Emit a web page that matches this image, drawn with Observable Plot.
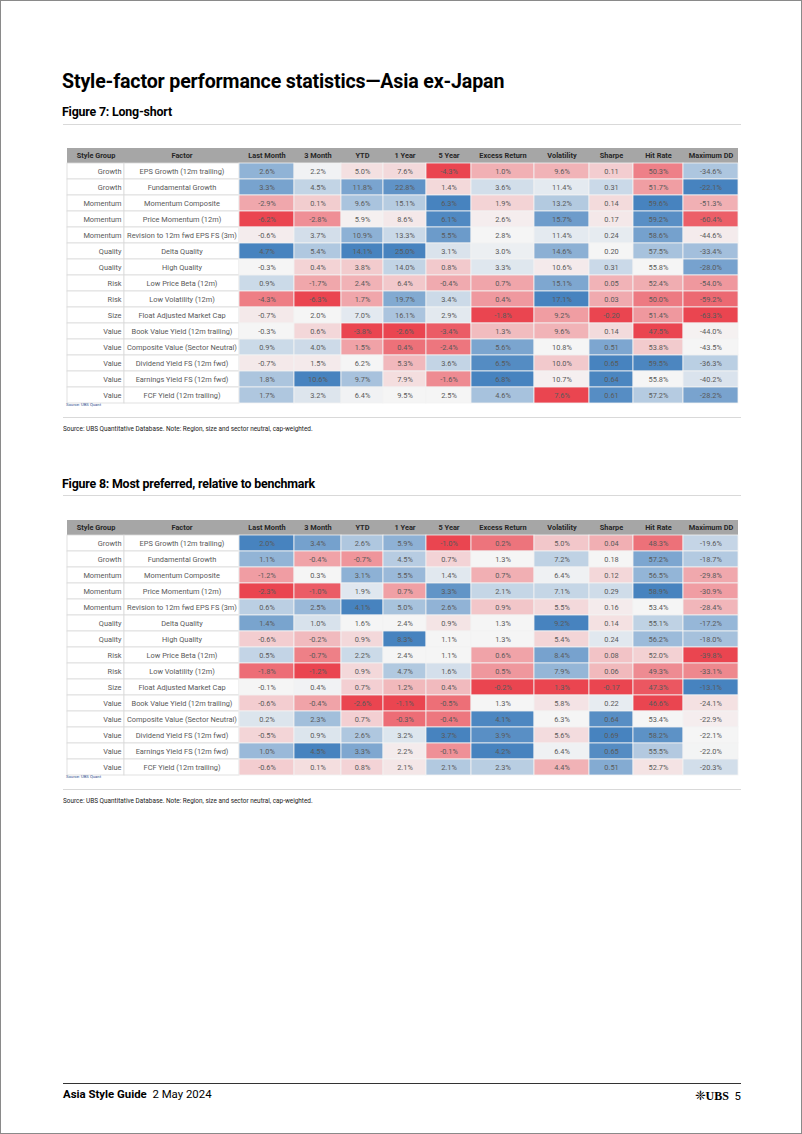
<!DOCTYPE html>
<html><head><meta charset="utf-8">
<script src="https://cdn.jsdelivr.net/npm/d3@7"></script>
<script src="https://cdn.jsdelivr.net/npm/@observablehq/plot@0.6"></script>
<style>
html,body{margin:0;padding:0;background:#fff;}
#page{position:relative;width:802px;height:1134px;box-sizing:border-box;border:1px solid #8a8a8a;overflow:hidden;font-family:Roboto,"Open Sans",sans-serif;color:#000;}
.abs{position:absolute;white-space:nowrap;line-height:1;}
.title{left:61px;top:71px;font-size:19.6px;font-weight:700;letter-spacing:-0.15px;}
.fig{left:61px;font-size:12.4px;font-weight:700;letter-spacing:-0.2px;}
.rule{position:absolute;left:62px;width:678px;height:1px;background:#d9d9d9;}
.src{left:62px;font-size:7.6px;color:#222;transform:scaleX(0.845);transform-origin:left;}
.tiny{left:65px;font-size:4.2px;color:#2f4f8f;}
.tbl{position:absolute;left:60px;}
.foot{left:62px;top:1088px;font-size:11.4px;}
.foot b{font-weight:700;}
.ubs{right:60px;top:1088px;font-size:11.4px;}
</style></head><body><div id="page">
<div class="abs title">Style-factor performance statistics—Asia ex-Japan</div>
<div class="abs fig" style="top:105px">Figure 7: Long-short</div>
<div class="rule" style="top:123px"></div>
<div class="tbl" id="t1" style="top:145px"></div>
<div class="abs tiny" style="top:402px">Source: UBS Quant</div>
<div class="rule" style="top:416px"></div>
<div class="abs src" style="top:424px">Source: UBS Quantitative Database. Note: Region, size and sector neutral, cap-weighted.</div>
<div class="abs fig" style="top:477px">Figure 8: Most preferred, relative to benchmark</div>
<div class="rule" style="top:494px"></div>
<div class="tbl" id="t2" style="top:517px"></div>
<div class="abs tiny" style="top:774px">Source: UBS Quant</div>
<div class="rule" style="top:788px"></div>
<div class="abs src" style="top:796px">Source: UBS Quantitative Database. Note: Region, size and sector neutral, cap-weighted.</div>
<div class="rule" style="top:1082px;background:#333"></div>
<div class="abs foot"><b>Asia Style Guide</b>&nbsp; 2 May 2024</div>
<div class="abs ubs"><span style="font-size:13px">❈</span><span style="font-family:'Liberation Serif',serif;font-weight:700;font-size:12px">UBS</span>&nbsp; 5</div>
</div>
<script>
// ---------- data ----------
const styleGroups = ["Growth","Growth","Momentum","Momentum","Momentum","Quality","Quality","Risk","Risk","Size","Value","Value","Value","Value","Value"];
const factors = ["EPS Growth (12m trailing)","Fundamental Growth","Momentum Composite","Price Momentum (12m)","Revision to 12m fwd EPS FS (3m)","Delta Quality","High Quality","Low Price Beta (12m)","Low Volatility (12m)","Float Adjusted Market Cap","Book Value Yield (12m trailing)","Composite Value (Sector Neutral)","Dividend Yield FS (12m fwd)","Earnings Yield FS (12m fwd)","FCF Yield (12m trailing)"];
const columnNames = ["Style Group","Factor","Last Month","3 Month","YTD","1 Year","5 Year","Excess Return","Volatility","Sharpe","Hit Rate","Maximum DD"];

// Figure 7: Long-short
const ls_lastMonth = [2.6,3.3,-2.9,-6.2,-0.6,4.7,-0.3,0.9,-4.3,-0.7,-0.3,0.9,-0.7,1.8,1.7];
const ls_3month    = [2.2,4.5,0.1,-2.8,3.7,5.4,0.4,-1.7,-6.3,2.0,0.6,4.0,1.5,10.6,3.2];
const ls_ytd       = [5.0,11.8,9.6,5.9,10.9,14.1,3.8,2.4,1.7,7.0,-3.8,1.5,6.2,9.7,6.4];
const ls_1year     = [7.6,22.8,15.1,8.6,13.3,25.0,14.0,6.4,19.7,16.1,-2.6,0.4,5.3,7.9,9.5];
const ls_5year     = [-4.3,1.4,6.3,6.1,5.5,3.1,0.8,-0.4,3.4,2.9,-3.4,-2.4,3.6,-1.6,2.5];
const ls_excess    = [1.0,3.6,1.9,2.6,2.8,3.0,3.3,0.7,0.4,-1.8,1.3,5.6,6.5,6.8,4.6];
const ls_vol       = [9.6,11.4,13.2,15.7,11.4,14.6,10.6,15.1,17.1,9.2,9.6,10.8,10.0,10.7,7.6];
const ls_sharpe    = [0.11,0.31,0.14,0.17,0.24,0.20,0.31,0.05,0.03,-0.20,0.14,0.51,0.65,0.64,0.61];
const ls_hitRate   = [50.3,51.7,59.6,59.2,58.6,57.5,55.8,52.4,50.0,51.4,47.5,53.8,59.5,55.8,57.2];
const ls_maxDD     = [-34.6,-22.1,-51.3,-60.4,-44.6,-33.4,-28.0,-54.0,-59.2,-63.3,-44.0,-43.5,-36.3,-40.2,-28.2];

// Figure 8: Most preferred, relative to benchmark
const mp_lastMonth = [2.0,1.1,-1.2,-2.3,0.6,1.4,-0.6,0.5,-1.8,-0.1,-0.6,0.2,-0.5,1.0,-0.6];
const mp_3month    = [3.4,-0.4,0.3,-1.0,2.5,1.0,-0.2,-0.7,-1.2,0.4,-0.4,2.3,0.9,4.5,0.1];
const mp_ytd       = [2.6,-0.7,3.1,1.9,4.1,1.6,0.9,2.2,0.9,0.7,-2.6,0.7,2.6,3.3,0.8];
const mp_1year     = [5.9,4.5,5.5,0.7,5.0,2.4,8.3,2.4,4.7,1.2,-1.1,-0.3,3.2,2.2,2.1];
const mp_5year     = [-1.0,0.7,1.4,3.3,2.6,0.9,1.1,1.1,1.6,0.4,-0.5,-0.4,3.7,-0.1,2.1];
const mp_excess    = [0.2,1.3,0.7,2.1,0.9,1.3,1.3,0.6,0.5,-0.2,1.3,4.1,3.9,4.2,2.3];
const mp_vol       = [5.0,7.2,6.4,7.1,5.5,9.2,5.4,8.4,7.9,1.3,5.8,6.3,5.6,6.4,4.4];
const mp_sharpe    = [0.04,0.18,0.12,0.29,0.16,0.14,0.24,0.08,0.06,-0.17,0.22,0.64,0.69,0.65,0.51];
const mp_hitRate   = [48.3,57.2,56.5,58.9,53.4,55.1,56.2,52.0,49.3,47.3,46.6,53.4,58.2,55.5,52.7];
const mp_maxDD     = [-19.6,-18.7,-29.8,-30.9,-28.4,-17.2,-18.0,-39.8,-33.1,-13.1,-24.1,-22.9,-22.1,-22.0,-20.3];

// ---------- layout ----------
const colWidths = [57,115,55,47,42,43,45,63,55,44,50,55];
const colStart = colWidths.map((w,i)=>d3.sum(colWidths.slice(0,i)));
const totalW = d3.sum(colWidths);
const HEADER = 15/16;

function makeTable(valueCols){
  const header = columnNames.map((name,i)=>({name, x1:colStart[i], x2:colStart[i]+colWidths[i]}));
  const labels = [];
  styleGroups.forEach((g,r)=>{
    labels.push({r, x1:colStart[0], x2:colStart[0]+colWidths[0], text:g, col:0});
    labels.push({r, x1:colStart[1], x2:colStart[1]+colWidths[1], text:factors[r], col:1});
  });
  const cells = [];
  valueCols.forEach((vals,ci)=>{
    const c = ci+2;
    const mn = d3.min(vals), mx = d3.max(vals), md = d3.median(vals);
    vals.forEach((v,r)=>{
      const t = v<=md ? (md===mn?0.5:0.5*(v-mn)/(md-mn)) : 0.5+0.5*(v-md)/(mx-md);
      const label = columnNames[c]==="Sharpe" ? v.toFixed(2) : v.toFixed(1)+"%";
      cells.push({r, x1:colStart[c], x2:colStart[c]+colWidths[c], t, label});
    });
  });
  return Plot.plot({
    width:690, height:262,
    marginLeft:6, marginRight:13, marginTop:2, marginBottom:5,
    x:{domain:[0,totalW], axis:null},
    y:{domain:[-HEADER,15], reverse:true, axis:null},
    color:{type:"linear", domain:[0,0.5,1], range:["#EA4550","#F5F5F5","#4783BF"], interpolate:"rgb"},
    style:{fontFamily:"Roboto, sans-serif", background:"transparent"},
    marks:[
      Plot.rect(header,{x1:"x1",x2:"x2",y1:-HEADER,y2:0,fill:"#A6A6A6"}),
      Plot.rect(labels,{x1:"x1",x2:"x2",y1:"r",y2:d=>d.r+1,fill:"#fff",stroke:"#D9D9D9",strokeWidth:0.8}),
      Plot.rect(cells,{x1:"x1",x2:"x2",y1:"r",y2:d=>d.r+1,fill:"t",stroke:"#F2F2F2",strokeWidth:0.8}),
      Plot.text(header,{x:d=>(d.x1+d.x2)/2,y:-HEADER/2,text:"name",fill:"#262626",fontWeight:"bold",fontSize:7.4}),
      Plot.text(labels.filter(d=>d.col===0),{x:"x2",dx:-3,y:d=>d.r+0.5,text:"text",textAnchor:"end",fill:"#595959",fontSize:7.4}),
      Plot.text(labels.filter(d=>d.col===1),{x:d=>(d.x1+d.x2)/2,y:d=>d.r+0.5,text:"text",fill:"#595959",fontSize:7.4}),
      Plot.text(cells,{x:d=>(d.x1+d.x2)/2,y:d=>d.r+0.5,text:"label",fill:"#5a5a5a",fontSize:7.4})
    ]
  });
}
document.getElementById("t1").append(makeTable([ls_lastMonth,ls_3month,ls_ytd,ls_1year,ls_5year,ls_excess,ls_vol,ls_sharpe,ls_hitRate,ls_maxDD]));
document.getElementById("t2").append(makeTable([mp_lastMonth,mp_3month,mp_ytd,mp_1year,mp_5year,mp_excess,mp_vol,mp_sharpe,mp_hitRate,mp_maxDD]));
</script>
</body></html>
